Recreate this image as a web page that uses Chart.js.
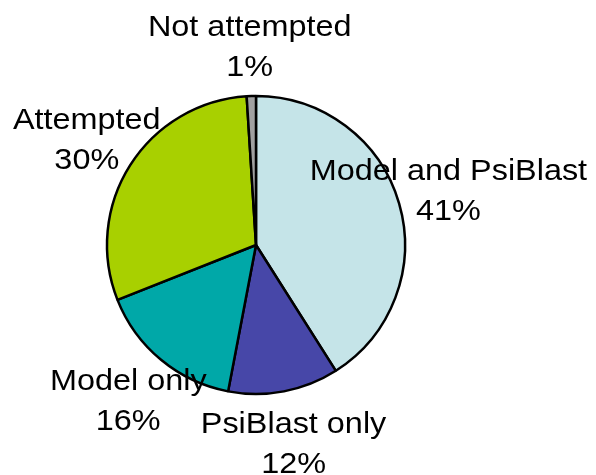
<!DOCTYPE html>
<html>
<head>
<meta charset="utf-8">
<script src="https://cdn.jsdelivr.net/npm/chart.js@4/dist/chart.umd.min.js"></script>
<style>
    html, body { margin: 0; padding: 0; background: #fff; }
    #wrap { width: 596px; height: 475px; }
</style>
</head>
<body>
<div id="wrap"><canvas id="pie-chart" width="596" height="475"></canvas></div>
<script>
// Slices, clockwise from 12 o'clock
const categories = ['Model and PsiBlast', 'PsiBlast only', 'Model only', 'Attempted', 'Not attempted'];
const shares = [41, 12, 16, 30, 1];
const sliceColors = ['#c5e4e8', '#4747a8', '#00a8a8', '#a8d000', '#a0a0a0'];

// Two-line labels (name / percent) placed outside each slice
const sliceLabels = {
    id: 'sliceLabels',
    afterDatasetsDraw(chart) {
        const ctx = chart.ctx;
        const meta = chart.getDatasetMeta(0);
        ctx.save();
        ctx.fillStyle = '#000';
        ctx.font = '30px "Liberation Sans", Arial, sans-serif';
        ctx.textAlign = 'center';
        ctx.textBaseline = 'alphabetic';
        meta.data.forEach((arc, i) => {
            const p = arc.getProps(['x', 'y', 'startAngle', 'endAngle', 'outerRadius'], true);
            const mid = (p.startAngle + p.endAngle) / 2;
            const dist = p.outerRadius * 1.345;
            const cx = p.x + Math.cos(mid) * dist;
            const cy = p.y + Math.sin(mid) * dist;
            const lines = [categories[i], shares[i] + '%'];
            lines.forEach((txt, k) => {
                ctx.save();
                ctx.translate(cx, cy - 9 + k * 40);
                ctx.scale(1.08, 1);
                ctx.fillText(txt, 0, 0);
                ctx.restore();
            });
        });
        ctx.restore();
    }
};

new Chart(document.getElementById('pie-chart'), {
    type: 'pie',
    data: {
        labels: categories,
        datasets: [{
            data: shares,
            backgroundColor: sliceColors,
            borderColor: '#000',
            borderWidth: 2.5
        }]
    },
    options: {
        responsive: false,
        animation: false,
        radius: 149,
        layout: { padding: { left: 0, right: 84, top: 20, bottom: 5 } },
        plugins: {
            legend: { display: false },
            tooltip: { enabled: false }
        }
    },
    plugins: [sliceLabels]
});
</script>
</body>
</html>
